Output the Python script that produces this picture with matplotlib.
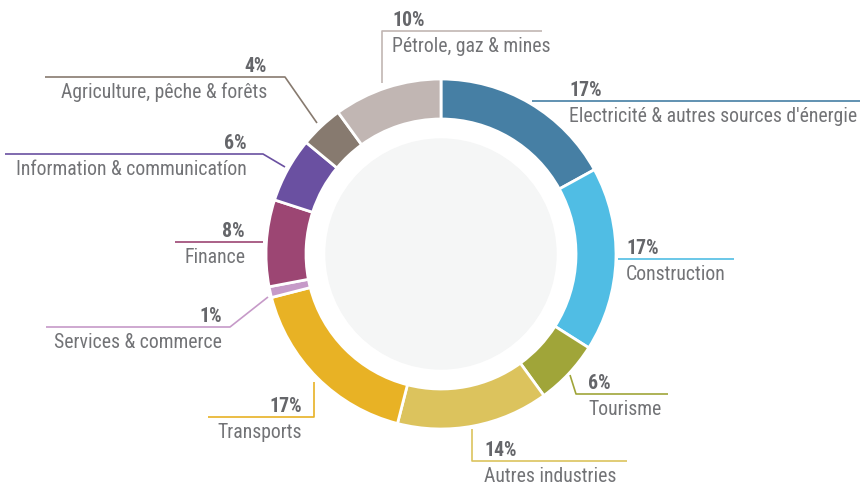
import matplotlib
matplotlib.use('Agg')
from matplotlib import pyplot as plt
from matplotlib.patches import Circle

# data, clockwise from 12 o'clock
sectors = ["Electricité & autres sources d'énergie", "Construction", "Tourisme",
           "Autres industries", "Transports", "Services & commerce", "Finance",
           "Information & communicatíon", "Agriculture, pêche & forêts",
           "Pétrole, gaz & mines"]
shares = [17, 17, 6, 14, 17, 1, 8, 6, 4, 10]
colors = ['#467FA4', '#50BDE4', '#A0A539', '#DCC35D', '#E8B225', '#C69AC8',
          '#9C4673', '#6A50A1', '#877A6F', '#C1B6B3']

plt.rcParams['font.family'] = ['Roboto Condensed', 'Liberation Sans Narrow',
                               'Liberation Sans', 'DejaVu Sans']

fig = plt.figure(figsize=(8.6, 4.87), dpi=100)
ax = fig.add_axes([0, 0, 1, 1])

cx, cy, R = 441, 254, 175
# y is flipped, so counterclock=True runs clockwise on screen
ax.pie(shares, colors=colors, center=(cx, cy), radius=R, startangle=-90,
       counterclock=True, frame=True,
       wedgeprops=dict(width=40, edgecolor='white', linewidth=2))
ax.add_patch(Circle((cx, cy), 115, color='#F5F6F6', zorder=0))
ax.set_xlim(0, 860)
ax.set_ylim(487, 0)
ax.set_aspect('equal')
ax.axis('off')

# label layout: leader path (pixels), text x, alignment
layout = [
    ([(532, 101), (860, 101)], 569, 'left'),
    ([(618, 259), (734, 259)], 626, 'left'),
    ([(570, 375), (576, 394), (668, 394)], 588, 'left'),
    ([(472, 429), (472, 461), (627, 461)], 484, 'left'),
    ([(314, 382), (314, 417), (208, 417)], 302, 'right'),
    ([(268, 297), (230, 327), (46, 327)], 222, 'right'),
    ([(263, 242), (175, 242)], 245, 'right'),
    ([(285, 167), (263, 154), (5, 154)], 247, 'right'),
    ([(317, 123), (285, 77), (45, 77)], 267, 'right'),
    ([(382, 83), (382, 31), (542, 31)], 392, 'left'),
]

for name, val, col, (path, tx, ha) in zip(sectors, shares, colors, layout):
    xs = [p[0] for p in path]
    ys = [p[1] for p in path]
    ax.plot(xs, ys, color=col, lw=1.2, solid_capstyle='butt')
    ly = path[-1][1]
    ax.text(tx, ly - 5, f'{val}%', ha=ha, va='baseline', fontsize=14.2,
            fontweight='bold', color='#65666A')
    ax.text(tx, ly + 21, name, ha=ha, va='baseline', fontsize=14.2,
            color='#727376')

fig.savefig('out.png', dpi=100)
